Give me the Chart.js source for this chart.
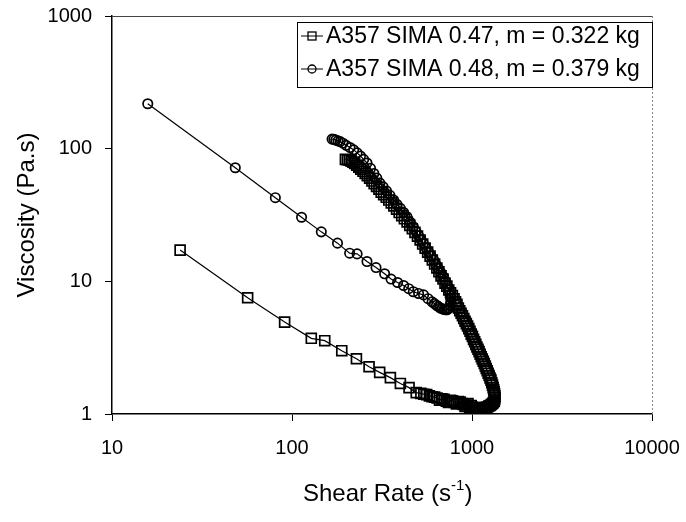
<!DOCTYPE html>
<html>
<head>
<meta charset="utf-8">
<script src="https://cdn.jsdelivr.net/npm/chart.js@4"></script>
<style>
  html, body { margin: 0; padding: 0; background: #fff; }
  canvas { display: block; }
</style>
</head>
<body>
<canvas id="viscChart" width="686" height="522"></canvas>
<script>
// A357 SIMA 0.47, m = 0.322 kg (squares) - shear rate (1/s) and viscosity (Pa.s)
const shearSquares = [198, 203, 208, 213, 218, 223, 229, 235, 241, 248, 255, 262, 270, 278, 286, 295, 304, 313, 323, 334,
  345, 356, 368, 381, 394, 407, 421, 436, 451, 466, 482, 498, 515, 532, 549, 567, 585, 602, 620, 638,
  655, 673, 690, 708, 725, 743, 760, 778, 795, 810, 825, 840, 855, 870, 885, 900, 915, 930, 945, 960,
  975, 990, 1005, 1020, 1035, 1050, 1065, 1080, 1095, 1110, 1125, 1140, 1155, 1170, 1185, 1200, 1215, 1230, 1245, 1260,
  1275, 1288, 1300, 1311, 1320, 1328, 1335, 1339, 1340, 1337, 1330, 1315, 1300, 1280, 1260, 1240, 1220, 1200, 1180, 1160,
  1140, 1120, 1100, 1080, 1060, 1040, 1020, 1005, 990, 970, 950, 930, 915, 895, 880, 860, 840, 820, 800, 780,
  760, 740, 720, 700, 680, 660, 640, 620, 600, 580, 560, 540, 520, 490, 447, 400, 352, 307, 268, 228,
  189, 152, 128, 91, 56.7, 23.9];
const viscSquares = [83, 82.5, 82, 80.5, 79, 77.5, 75, 72.5, 70, 67.5, 65, 62.5, 60, 57, 54.5, 52, 49.5, 47, 45, 43,
  41, 39, 37, 35, 33, 31.3, 29.6, 28, 26.4, 24.9, 23.4, 21.9, 20.5, 19.1, 17.8, 16.6, 15.5, 14.5, 13.5, 12.6,
  11.8, 11.0, 10.4, 9.7, 9.2, 8.6, 8.2, 7.8, 7.4, 7.0, 6.7, 6.3, 6.0, 5.75, 5.5, 5.25, 5.0, 4.8, 4.6, 4.4,
  4.2, 4.0, 3.85, 3.65, 3.5, 3.35, 3.2, 3.08, 2.95, 2.82, 2.7, 2.6, 2.5, 2.4, 2.3, 2.2, 2.12, 2.03, 1.95, 1.87,
  1.8, 1.72, 1.65, 1.58, 1.52, 1.47, 1.42, 1.37, 1.33, 1.29, 1.25, 1.22, 1.2, 1.18, 1.16, 1.15, 1.13, 1.12, 1.12, 1.1,
  1.11, 1.1, 1.12, 1.08, 1.09, 1.07, 1.1, 1.13, 1.16, 1.12, 1.2, 1.17, 1.14, 1.18, 1.2, 1.23, 1.24, 1.19, 1.22, 1.26,
  1.27, 1.22, 1.25, 1.29, 1.3, 1.27, 1.32, 1.34, 1.35, 1.37, 1.4, 1.41, 1.43, 1.45, 1.58, 1.70, 1.88, 2.06, 2.27, 2.61,
  3.0, 3.57, 3.72, 4.93, 7.52, 17.2];

// A357 SIMA 0.48, m = 0.379 kg (circles)
const shearCircles = [167, 171, 175, 180, 185, 192, 200, 210, 220, 230, 240, 250, 261, 273, 285, 296, 308, 321, 335, 350,
  367, 383, 400, 417, 435, 453, 472, 488, 505, 520, 536, 555, 575, 593, 612, 630, 650, 672, 695, 713,
  730, 744, 755, 760, 762, 756, 745, 736, 726, 713, 700, 684, 667, 651, 635, 618, 600, 570, 538, 505,
  472, 445, 417, 386, 355, 327, 293, 261, 230, 209, 179, 145.5, 113, 80.8, 48.4, 15.8];
const viscCircles = [118, 117.5, 116, 114.5, 113, 110, 106, 102, 98, 93, 88, 83, 78, 71, 65, 60, 55, 51.5, 48, 44.5,
  41, 38, 35.5, 33, 30.7, 28, 25.8, 23.8, 22, 20.6, 19.3, 17.8, 16.5, 15.5, 14.5, 13.4, 12.5, 11.6, 10.8, 10,
  9.2, 8.6, 8.0, 7.5, 7.0, 6.6, 6.3, 6.2, 6.1, 6.1, 6.15, 6.2, 6.3, 6.45, 6.6, 6.8, 7.0, 7.4, 7.9, 8.1,
  8.35, 8.8, 9.3, 9.8, 10.4, 11.4, 12.7, 14.1, 16.1, 16.3, 19.4, 23.6, 30.4, 42.7, 71.8, 218];

const xTicks = [10, 100, 1000, 10000];
const yTicks = [1, 10, 100, 1000];
const seriesNames = ['A357 SIMA 0.47, m = 0.322 kg', 'A357 SIMA 0.48, m = 0.379 kg'];

const FONT = "'Liberation Sans', Arial, sans-serif";

const toPoints = (xs, ys) => xs.map((x, i) => ({ x: x, y: ys[i] }));

// frame, legend box and axis titles
const decorations = {
  id: 'decorations',
  afterDraw(chart) {
    const ctx = chart.ctx;
    const a = chart.chartArea;
    ctx.save();

    // top and right frame lines
    ctx.strokeStyle = '#444';
    ctx.lineWidth = 1;
    ctx.beginPath();
    ctx.moveTo(a.left, a.top + 0.5);
    ctx.lineTo(a.right, a.top + 0.5);
    ctx.stroke();
    ctx.strokeStyle = '#888';
    ctx.setLineDash([2, 2]);
    ctx.beginPath();
    ctx.moveTo(a.right + 0.5, a.top);
    ctx.lineTo(a.right + 0.5, a.bottom);
    ctx.stroke();
    ctx.setLineDash([]);

    // legend
    const bx = 297, by = 22, bw = a.right - 297, bh = 65;
    ctx.fillStyle = '#fff';
    ctx.fillRect(bx, by, bw, bh);
    ctx.strokeStyle = '#000';
    ctx.lineWidth = 1;
    ctx.strokeRect(bx + 0.5, by + 0.5, bw, bh);
    const rows = [36, 69];
    ctx.font = '23px ' + FONT;
    ctx.textBaseline = 'middle';
    ctx.textAlign = 'left';
    rows.forEach((ry, i) => {
      ctx.strokeStyle = '#000';
      ctx.lineWidth = 1;
      ctx.beginPath();
      ctx.moveTo(301, ry);
      ctx.lineTo(323, ry);
      ctx.stroke();
      ctx.lineWidth = 1.3;
      if (i === 0) {
        ctx.strokeRect(308, ry - 4, 8, 8);
      } else {
        ctx.beginPath();
        ctx.arc(312, ry, 4, 0, Math.PI * 2);
        ctx.stroke();
      }
      ctx.fillStyle = '#000';
      ctx.fillText(seriesNames[i], 326, ry + 1);
    });

    // x title with superscript
    ctx.fillStyle = '#000';
    ctx.font = '24px ' + FONT;
    ctx.textBaseline = 'alphabetic';
    const base = 'Shear Rate (s';
    let x0 = 303;
    const yb = 501;
    ctx.fillText(base, x0, yb);
    x0 += ctx.measureText(base).width;
    ctx.font = '15px ' + FONT;
    ctx.fillText('-1', x0, yb - 11);
    x0 += ctx.measureText('-1').width;
    ctx.font = '24px ' + FONT;
    ctx.fillText(')', x0, yb);

    // y title
    ctx.translate(27, 215);
    ctx.rotate(-Math.PI / 2);
    ctx.textAlign = 'center';
    ctx.textBaseline = 'middle';
    ctx.fillText('Viscosity (Pa.s)', 0, 0);
    ctx.restore();
  }
};

const ctx = document.getElementById('viscChart').getContext('2d');
const viscChart = new Chart(ctx, {
  type: 'scatter',
  data: {
    datasets: [
      {
        label: seriesNames[0],
        data: toPoints(shearSquares, viscSquares),
        showLine: true,
        borderColor: '#000',
        borderWidth: 1.2,
        pointStyle: 'rect',
        pointRadius: 7,
        pointBorderWidth: 1.7,
        pointBorderColor: '#000',
        pointBackgroundColor: 'rgba(255,255,255,0)'
      },
      {
        label: seriesNames[1],
        data: toPoints(shearCircles, viscCircles),
        showLine: true,
        borderColor: '#000',
        borderWidth: 1.2,
        pointStyle: 'circle',
        pointRadius: 4.7,
        pointBorderWidth: 1.7,
        pointBorderColor: '#000',
        pointBackgroundColor: 'rgba(255,255,255,0)'
      }
    ]
  },
  options: {
    responsive: false,
    animation: false,
    layout: { padding: { left: 0, top: 16, right: 34, bottom: 0 } },
    plugins: {
      legend: { display: false },
      tooltip: { enabled: false }
    },
    scales: {
      x: {
        type: 'logarithmic',
        min: 10,
        max: 10000,
        afterBuildTicks: (scale) => { scale.ticks = xTicks.map(v => ({ value: v })); },
        afterFit: (scale) => {
          scale.height = 108;
          scale.paddingLeft = 0;
          scale.paddingRight = 0;
        },
        border: { color: '#000', width: 1.5 },
        grid: { drawOnChartArea: false, drawTicks: true, tickLength: 7, color: '#000', lineWidth: 1 },
        ticks: {
          color: '#000',
          font: { family: FONT, size: 20 },
          padding: 15,
          maxRotation: 0,
          callback: (v) => String(v)
        }
      },
      y: {
        type: 'logarithmic',
        min: 1,
        max: 1000,
        afterBuildTicks: (scale) => { scale.ticks = yTicks.map(v => ({ value: v })); },
        afterFit: (scale) => {
          scale.width = 112;
          scale.paddingTop = 0;
          scale.paddingBottom = 0;
        },
        border: { color: '#000', width: 1.5 },
        grid: { drawOnChartArea: false, drawTicks: true, tickLength: 7, color: '#000', lineWidth: 1 },
        ticks: {
          color: '#000',
          font: { family: FONT, size: 20 },
          padding: 13,
          callback: (v) => String(v)
        }
      }
    }
  },
  plugins: [decorations]
});
</script>
</body>
</html>
